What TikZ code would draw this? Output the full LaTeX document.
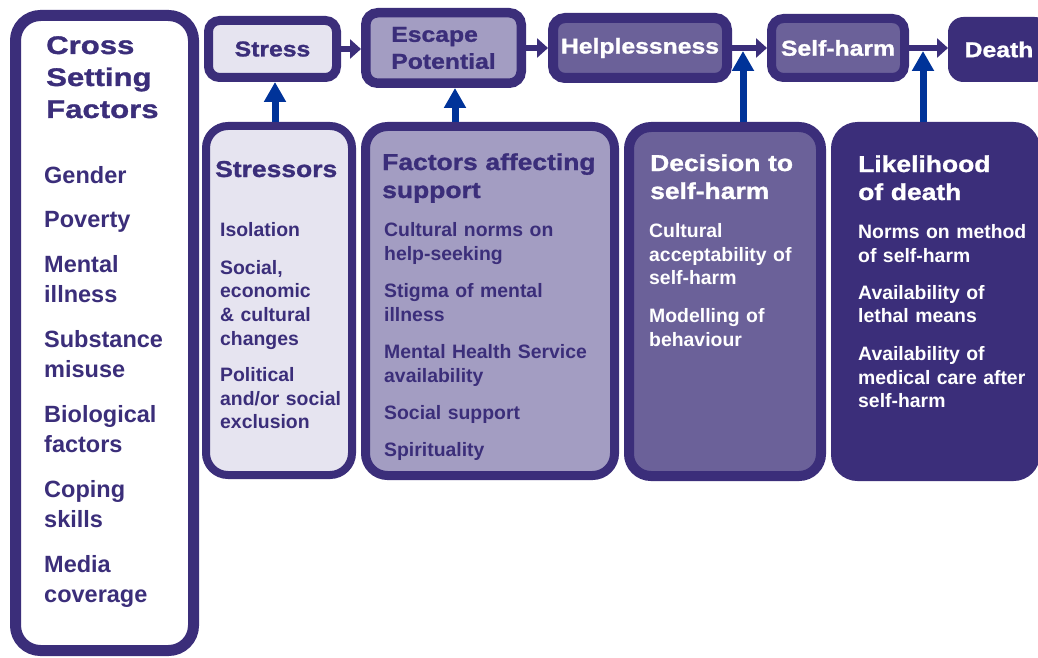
\documentclass[tikz,border=0pt]{standalone}
\usepackage{fontspec}
\setmainfont{Liberation Sans}
\newfontfamily\hfont[FakeStretch=1.15, BoldFeatures={FakeBold=1.2}]{Liberation Sans}
\newfontfamily\cfont[FakeStretch=1.22, BoldFeatures={FakeBold=1.2}]{Liberation Sans}
\newfontfamily\bfont{Liberation Sans}
\usetikzlibrary{arrows.meta}
\definecolor{dkp}{RGB}{59,46,122}
\definecolor{ltf}{RGB}{230,228,240}
\definecolor{mdf}{RGB}{163,157,194}
\definecolor{hpf}{RGB}{107,97,153}
\definecolor{blu}{RGB}{0,51,153}
\tikzset{
  box/.style={draw=dkp, inner sep=0pt},
  topt/.style={font=\hfont\bfseries\fontsize{21.5pt}{27pt}\selectfont, align=left},
  head/.style={anchor=base west, inner sep=0pt, text width=250pt, align=left, font=\hfont\bfseries\fontsize{23pt}{28pt}\selectfont},
  body/.style={anchor=base west, inner sep=0pt, text width=250pt, align=left, font=\bfont\bfseries\fontsize{19.4pt}{23.5pt}\selectfont},
  darr/.style={draw=dkp, line width=6pt, -{Triangle[width=19pt,length=11pt]}},
  barr/.style={draw=blu, line width=7pt, -{Triangle[width=21pt,length=20pt]}}
}
\begin{document}
\begin{tikzpicture}[x=1pt,y=-1pt]
\clip (0,0) rectangle (1038,658);
\fill[white] (0,0) rectangle (1038,658);
% left column
\node[box, line width=11pt, fill=white, minimum width=178pt, minimum height=635pt, rounded corners=25pt] (cross) at (104.5,333) {};
% top row
\node[box, line width=9pt, fill=ltf, minimum width=128pt, minimum height=57pt, rounded corners=11pt, topt, text=dkp] (stress) at (272.5,49) {Stress};
\node[box, line width=9.5pt, fill=mdf, minimum width=155.5pt, minimum height=70.5pt, rounded corners=12pt, topt, text=dkp] (escape) at (443.5,48) {Escape\\Potential};
\node[box, line width=10pt, fill=hpf, minimum width=174pt, minimum height=60pt, rounded corners=12pt, topt, text=white] (helpless) at (640,48) {Helplessness};
\node[box, line width=9pt, fill=hpf, minimum width=133pt, minimum height=59pt, rounded corners=12pt, topt, text=white] (selfharm) at (838,48) {Self-harm};
\node[box, line width=1pt, fill=dkp, minimum width=101pt, minimum height=64pt, rounded corners=15pt, topt, text=white] (death) at (999,49.5) {Death};
% lower boxes
\node[box, line width=8pt, fill=ltf, minimum width=146pt, minimum height=349pt, rounded corners=22pt] (stressors) at (279,300.5) {};
\node[box, line width=9pt, fill=mdf, minimum width=249pt, minimum height=349pt, rounded corners=22pt] (factors) at (490,301) {};
\node[box, line width=10pt, fill=hpf, minimum width=192pt, minimum height=349pt, rounded corners=22pt] (decision) at (725,301.5) {};
\node[box, line width=1pt, fill=dkp, minimum width=208pt, minimum height=358pt, rounded corners=26pt] (likelihood) at (935.5,301.5) {};
% dark arrows
\draw[darr] (stress.east) -- (stress.east -| escape.west);
\draw[darr] (escape.east) -- (escape.east -| helpless.west);
\draw[darr] (helpless.east) -- (helpless.east -| selfharm.west);
\draw[darr] (selfharm.east) -- (selfharm.east -| death.west);
% blue arrows
\coordinate (b1) at (275,0);
\coordinate (b2) at (455,0);
\coordinate (j1) at (743,51);
\coordinate (j2) at (923,51);
\draw[barr] (stressors.north -| b1) -- (stress.south -| b1);
\draw[barr] (factors.north -| b2) -- (escape.south -| b2);
\draw[barr] (decision.north -| j1) -- (j1);
\draw[barr] (likelihood.north -| j2) -- (j2);
% left column text
\node[head, text=dkp, font=\cfont\bfseries\fontsize{25.5pt}{32pt}\selectfont] (crosshead) at (46,54) {Cross\\Setting\\Factors};
\node[body, text=dkp, font=\bfont\bfseries\fontsize{23.5pt}{29.5pt}\selectfont] (crossbody) at (44,183) {Gender\\[14.5pt]Poverty\\[16pt]Mental\\illness\\[16pt]Substance\\misuse\\[16pt]Biological\\factors\\[16pt]Coping\\skills\\[16pt]Media\\coverage};
% stressors text
\node[head, text=dkp] (stressorshead) at (215,177) {Stressors};
\node[body, text=dkp, font=\bfont\bfseries\fontsize{19.4pt}{23.7pt}\selectfont] (stressorsbody) at (220,236.5) {Isolation\\[14pt]Social,\\economic\\\&~cultural\\changes\\[12.5pt]Political\\and/or social\\exclusion};
% factors text
\node[head, text=dkp] (factorshead) at (382,170) {Factors affecting\\support};
\node[body, text=dkp, font=\bfont\bfseries\fontsize{19.4pt}{24pt}\selectfont] (factorsbody) at (384,236.5) {Cultural norms on\\help-seeking\\[13pt]Stigma of mental\\illness\\[13pt]Mental Health Service\\availability\\[13pt]Social support\\[13pt]Spirituality};
% decision text
\node[head, text=white] (decisionhead) at (650,171) {Decision to\\self-harm};
\node[body, text=white] (decisionbody) at (649,237.5) {Cultural\\acceptability of\\self-harm\\[14.5pt]Modelling of\\behaviour};
% likelihood text
\node[head, text=white] (likelihoodhead) at (858,172) {Likelihood\\of death};
\node[body, text=white] (likelihoodbody) at (858,238.5) {Norms on method\\of self-harm\\[13.5pt]Availability of\\lethal means\\[14.5pt]Availability of\\medical care after\\self-harm};
\end{tikzpicture}
\end{document}
